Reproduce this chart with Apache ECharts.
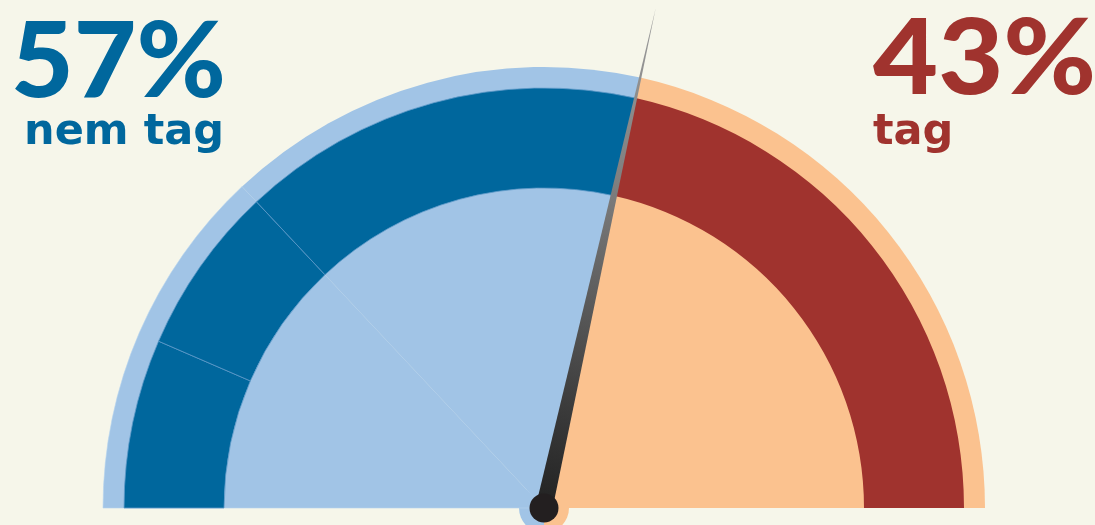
<!DOCTYPE html>
<html>
<head>
<meta charset="utf-8">
<script src="https://cdn.jsdelivr.net/npm/echarts@6/dist/echarts.min.js"></script>
<style>
html,body{margin:0;padding:0;background:#f6f6ea;}
#c{width:1095px;height:525px;}
</style>
</head>
<body>
<div id="c"></div>
<script>
// ---- data ----
const categories = ['nem tag', 'tag'];
const shares = [57, 43];            // percent
const shareLabels = ['57%', '43%'];
const blueSegments = [13, 13, 31];  // subdivisions of the "nem tag" band (sum 57)
const needleValue = 57;

// ---- style ----
const C = {
  bg: '#f6f6ea',
  blueDark: '#00679d',
  blueLight: '#a1c4e6',
  red: '#a0332e',
  peach: '#fbc28f',
  knob: '#231f20'
};
const CX = 544, CY = 508;

const chart = echarts.init(document.getElementById('c'), null, {renderer: 'canvas'});

const bandData = blueSegments.map((v, i) => ({
  name: categories[0] + ' ' + (i + 1), value: v,
  itemStyle: {color: C.blueDark, borderColor: '#5f9bc9', borderWidth: 0.8}
})).concat([{name: categories[1], value: shares[1], itemStyle: {color: C.red, borderWidth: 0}}]);

const bgData = [
  {name: categories[0] + ' a', value: blueSegments[0] + blueSegments[1],
   itemStyle: {color: C.blueLight, borderColor: '#b6d3ee', borderWidth: 0.6}},
  {name: categories[0] + ' b', value: blueSegments[2], itemStyle: {color: C.blueLight, borderWidth: 0}},
  {name: categories[1], value: shares[1], itemStyle: {color: C.peach, borderWidth: 0}}
];

const big = {fontFamily: 'Lato', fontWeight: 900, fontSize: 104};
const small = {fontFamily: 'DejaVu Sans', fontWeight: 'bold', fontSize: 43};

const option = {
  backgroundColor: C.bg,
  animation: false,
  series: [
    {
      type: 'pie', silent: true, z: 1,
      center: [CX, CY], radius: [0, 25],
      startAngle: 90, clockwise: true,
      label: {show: false}, labelLine: {show: false},
      data: [
        {name: categories[1], value: 50, itemStyle: {color: C.peach}},
        {name: categories[0], value: 50, itemStyle: {color: C.blueLight}}
      ]
    },
    {
      type: 'pie', silent: true, z: 2,
      center: [CX, CY], radius: [0, 441],
      startAngle: 180, endAngle: 0, clockwise: true,
      label: {show: false}, labelLine: {show: false},
      data: bgData
    },
    {
      type: 'pie', silent: true, z: 3,
      center: [CX, CY], radius: [320, 420],
      startAngle: 180, endAngle: 0, clockwise: true,
      label: {show: false}, labelLine: {show: false},
      data: bandData
    },
    {
      type: 'gauge', z: 5, silent: true,
      center: [CX, CY], radius: 441,
      startAngle: 180, endAngle: 0, min: 0, max: 100,
      axisLine: {show: false}, splitLine: {show: false},
      axisTick: {show: false}, axisLabel: {show: false},
      title: {show: false}, detail: {show: false},
      progress: {show: false},
      pointer: {
        show: true, icon: 'triangle', length: 512, width: 17,
        offsetCenter: [0, 0],
        itemStyle: {
          color: {
            type: 'linear', x: 0, y: 0, x2: 0, y2: 1,
            colorStops: [
              {offset: 0, color: '#9b9b9b'},
              {offset: 0.35, color: '#7f7f7f'},
              {offset: 0.8, color: '#3b3b3b'},
              {offset: 1, color: '#222222'}
            ]
          }
        }
      },
      anchor: {show: true, showAbove: true, size: 29, itemStyle: {color: C.knob, borderWidth: 0}},
      data: [{value: needleValue}]
    }
  ],
  graphic: [
    {type: 'text', x: 226, y: 11, scaleX: 1.04, z: 10,
     style: Object.assign({text: shareLabels[0], fill: C.blueDark, align: 'right', verticalAlign: 'top'}, big)},
    {type: 'text', x: 224, y: 111, z: 10,
     style: Object.assign({text: categories[0], fill: C.blueDark, align: 'right', verticalAlign: 'top'}, small)},
    {type: 'text', x: 873, y: 8, scaleX: 1.08, z: 10,
     style: Object.assign({text: shareLabels[1], fill: C.red, align: 'left', verticalAlign: 'top'}, big)},
    {type: 'text', x: 873, y: 111, z: 10,
     style: Object.assign({text: categories[1], fill: C.red, align: 'left', verticalAlign: 'top'}, small)}
  ]
};
chart.setOption(option);
</script>
</body>
</html>
